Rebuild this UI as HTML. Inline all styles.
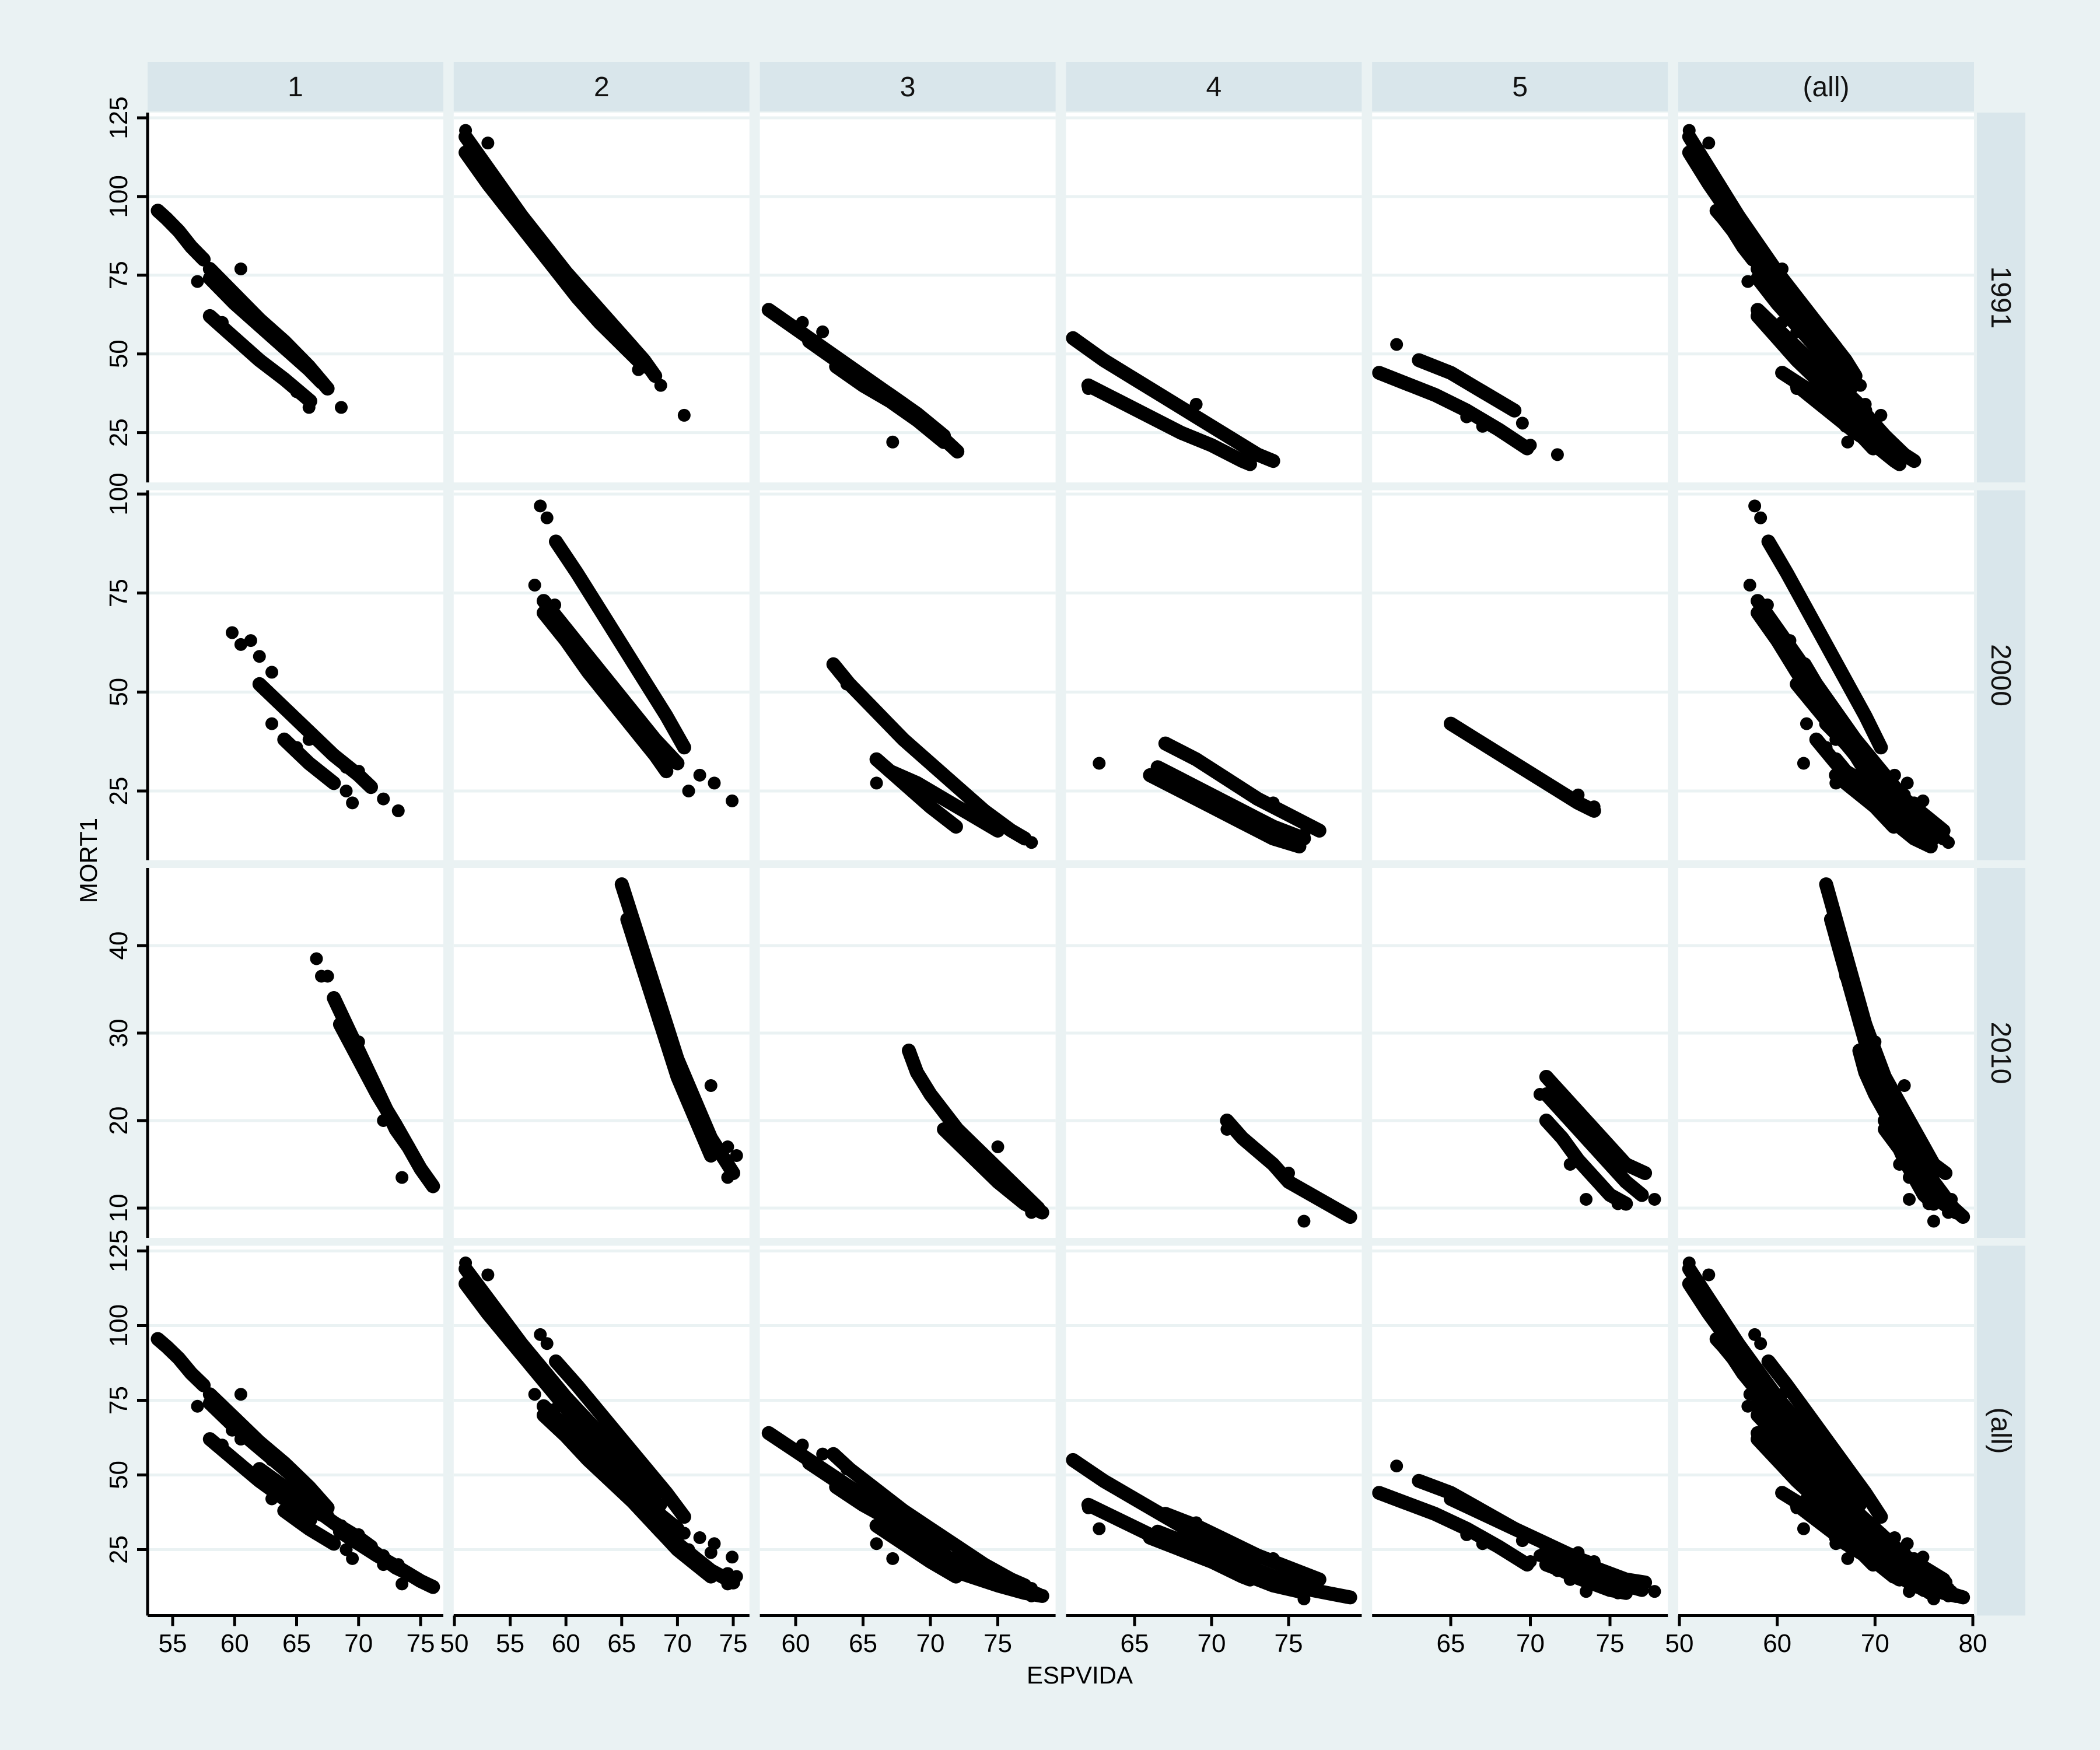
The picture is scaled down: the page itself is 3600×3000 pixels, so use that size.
<!DOCTYPE html>
<html><head><meta charset="utf-8">
<style>
html,body{margin:0;padding:0;background:#eaf2f3;}
svg{display:block;font-family:"Liberation Sans",sans-serif;}
</style></head>
<body>
<svg id="chart" width="3600" height="3000" viewBox="0 0 3600 3000" xmlns="http://www.w3.org/2000/svg">
<rect x="0" y="0" width="3600" height="3000" fill="#eaf2f3"/>
<g id="layer"></g>
<text x="1851" y="2886" font-size="42" text-anchor="middle">ESPVIDA</text>
<text x="0" y="0" font-size="42" text-anchor="middle" transform="translate(166,1475) rotate(-90)">MORT1</text>
</svg>
<script>
// ---- categories ----
const colLabels = ["1", "2", "3", "4", "5", "(all)"];
const rowLabels = ["1991", "2000", "2010", "(all)"];
// ---- tick labels ----
const xTicks = [[55,60,65,70,75],[50,55,60,65,70,75],[60,65,70,75],[65,70,75],[65,70,75],[50,60,70,80]];
const yTicks = [[25,50,75,100,125],[25,50,75,100],[10,20,30,40],[25,50,75,100,125]];
// ---- series: [ESPVIDA, MORT1] pairs; curves (dense bands) and single points ----
// 1991
const c1991_g1 = [[[53.8,95.5],[54.5,93],[55.5,89],[56.5,84],[57.5,80]],[[58,77],[60,69],[62,61],[64,54],[66,46],[67.5,39]],[[58,74],[60,66],[62,59],[64,52],[66,45],[67,41]],[[58,62],[60,55],[62,48],[64,42],[66.1,35]]];
const p1991_g1 = [[60.5,77],[57,73],[68.6,33],[66,33],[59,60],[65,38],[63,45]];
const c1991_g2 = [[[51,119],[53,109],[55,99],[57,89],[59,80],[61,71],[63,63],[65,56],[67,48],[68,43]],[[51,114],[53,104],[55,95],[57,86],[59,77],[61,68],[63,60],[65,53],[67,46]],[[52,114],[54,104],[56,94],[58,85],[60,76],[62,68],[64,60],[66,52]]];
const p1991_g2 = [[51,121],[53,117],[70.6,30.5],[68.5,40],[66.5,45]];
const c1991_g3 = [[[58,64],[60,58],[62,52],[64,46],[66,40],[68,34],[70,27],[72,19]],[[61,54],[63,48],[65,42],[67,37],[69,31],[71,24]],[[63,46],[65,40],[67,35],[69,29],[71,22]]];
const p1991_g3 = [[67.2,22],[60.5,60],[62,57]];
const c1991_g4 = [[[61,55],[63,48],[65,42],[67,36],[69,30],[71,24],[73,18],[74,16]],[[62,40],[64,35],[66,30],[68,25],[70,21],[72,16],[72.5,15]]];
const p1991_g4 = [[69,34],[62,39]];
const c1991_g5 = [[[60.5,44],[62,41],[64,37],[66,32],[68,26],[69.8,20]],[[63,48],[65,44],[67,38],[69,32]]];
const p1991_g5 = [[61.6,53],[71.7,18],[70,21],[69.5,28],[66,30],[67,27]];
// 2000
const c2000_g1 = [[[62,52],[64,46],[66,40],[68,34],[70,29],[71,26]],[[64,38],[66,32],[68,27]]];
const p2000_g1 = [[59.8,65],[60.5,62],[61.3,63],[62,59],[63,55],[63,42],[65,36],[66,38],[69,25],[69.5,22],[72,23],[73.2,20],[69,31],[70,30]];
const c2000_g2 = [[[59.1,88],[61,80],[63,71],[65,62],[67,53],[69,44],[70.6,36]],[[58,73],[60,66],[62,59],[64,52],[66,45],[68,38],[70,32]],[[58,70],[60,63],[62,55],[64,48],[66,41],[68,34],[69,30]]];
const p2000_g2 = [[57.7,97],[58.3,94],[57.2,77],[73.3,27],[74.9,22.5],[71,25],[72,29],[59,72]];
const c2000_g3 = [[[62.8,57],[64,52],[66,45],[68,38],[70,32],[72,26],[74,20],[76,15],[77,13]],[[66,33],[68,27],[70,21],[71.9,16]],[[67,30],[69,27],[71,23],[73,19],[75,15]]];
const p2000_g3 = [[63.8,52],[66,27],[77.5,12]];
const c2000_g4 = [[[67,37],[69,33],[71,28],[73,23],[75,19],[77,15]],[[66.5,31],[68,28],[70,24],[72,20],[74,16],[76,13]],[[66,29],[68,25],[70,21],[72,17],[74,13],[75.7,11]]];
const p2000_g4 = [[62.7,32],[74,22],[76,14]];
const c2000_g5 = [[[65,42],[67,37],[69,32],[71,27],[73,22],[74,20]]];
const p2000_g5 = [[73,24],[74,21]];
// 2010
const c2010_g1 = [[[68,34],[69,31],[70,28],[71,25],[72,22],[73,19],[74,17],[75,14.5],[76,12.5]],[[68.5,31],[70,27],[71.5,23],[73,19.5],[74,17]]];
const p2010_g1 = [[66.6,38.5],[67,36.5],[67.5,36.5],[73.5,13.5],[72,20],[70,29]];
const c2010_g2 = [[[65,47],[66,43],[67,39],[68,35],[69,31],[70,27],[71,24],[72,21],[73,18],[74,16],[75,14]],[[66,41],[67,37],[68,33],[69,29],[70,25],[71,22],[72,19],[73,16]],[[65.5,43],[66.5,39],[67.5,35],[68.5,31],[69.5,28],[70.5,24],[71.5,21]]];
const p2010_g2 = [[73,24],[74.5,17],[75.3,16],[74.5,13.5]];
const c2010_g3 = [[[68.4,28],[69,25.5],[70,23],[71,21],[72,19],[73,17.5],[74,16],[75,14.5],[76,13],[77,11.5],[78,10]],[[71,19],[73,16],[75,13],[77,10.5],[78.3,9.5]]];
const p2010_g3 = [[75,17],[77.5,9.5]];
const c2010_g4 = [[[71,20],[72,18],[73,16.5],[74,15],[75,13],[76,12],[77,11],[78,10],[79,9]]];
const p2010_g4 = [[76,8.5],[75,14],[71,19]];
const c2010_g5 = [[[71,25],[72,23],[73,21],[74,19],[75,17],[76,15],[77.2,14]],[[71,23],[72,21],[73,19],[74,17],[75,15],[76,13],[77,11.5]],[[71,20],[72,18],[73,15.5],[74,13.5],[75,11.5],[76,10.5]]];
const p2010_g5 = [[70.6,23],[73.5,11],[77.8,11],[72.5,15],[75.5,10.5]];

const curves = [[c1991_g1,c1991_g2,c1991_g3,c1991_g4,c1991_g5],[c2000_g1,c2000_g2,c2000_g3,c2000_g4,c2000_g5],[c2010_g1,c2010_g2,c2010_g3,c2010_g4,c2010_g5]];
const points = [[p1991_g1,p1991_g2,p1991_g3,p1991_g4,p1991_g5],[p2000_g1,p2000_g2,p2000_g3,p2000_g4,p2000_g5],[p2010_g1,p2010_g2,p2010_g3,p2010_g4,p2010_g5]];

// ---- layout ----
const NS = "http://www.w3.org/2000/svg";
const layer = document.getElementById('layer');
const colLeft = i => 253 + i * 524.8;
const PW = 507;
const rowTop = r => 193 + r * 647.5;
const PH = 634;
const xRef = [[55,296,75,721],[50,779,75,1257],[60,1364,75,1710.5],[65,1945,75,2209],[65,2487,75,2760],[50,2879,80,3382]];
const yRef = [[125,202,25,741.6],[100,847,25,1356],[40,1621,10,2071],[125,2144.5,25,2656.5]];
function xScale(c, v){const a=xRef[c];return a[1]+(v-a[0])*(a[3]-a[1])/(a[2]-a[0]);}
function yScale(r, v){const a=yRef[r];return a[1]+(v-a[0])*(a[3]-a[1])/(a[2]-a[0]);}
function mk(tag, attrs, parent){const e=document.createElementNS(NS,tag);for(const k in attrs)e.setAttribute(k,attrs[k]);(parent||layer).appendChild(e);return e;}

// column strips
colLabels.forEach((lab,i)=>{
  const s = mk('rect',{x:colLeft(i),y:106,width:PW,height:85,fill:'#d9e6eb'});
  
  
  const t = mk('text',{x:colLeft(i)+PW/2,y:165,'font-size':48,'text-anchor':'middle',fill:'#111'});
  t.textContent = lab;
  
  
});
// row strips
rowLabels.forEach((lab,r)=>{
  const s = mk('rect',{x:3389,y:rowTop(r),width:83,height:PH,fill:'#d9e6eb'});
  
  
  const cy = rowTop(r)+PH/2;
  const t = mk('text',{x:0,y:0,'font-size':48,'text-anchor':'middle',fill:'#111',transform:`translate(3414,${cy}) rotate(90)`});
  t.textContent = lab;
  
  
});

function panelData(r,c){
  let cs=[], ps=[];
  const rows = r===3 ? [0,1,2] : [r];
  const cols = c===5 ? [0,1,2,3,4] : [c];
  rows.forEach(rr=>cols.forEach(cc=>{cs=cs.concat(curves[rr][cc]);ps=ps.concat(points[rr][cc]);}));
  return {cs, ps};
}

for(let r=0;r<4;r++){
  for(let c=0;c<6;c++){
    const x0=colLeft(c), y0=rowTop(r);
    const g = mk('g',{});
    
    
    const bg = mk('rect',{x:x0,y:y0,width:PW,height:PH,fill:'#ffffff'},g);
    
    
    const cpId='cp'+r+'_'+c;
    const cp = mk('clipPath',{id:cpId},g);
    mk('rect',{x:x0,y:y0,width:PW,height:PH},cp);
    yTicks[r].forEach(v=>{
      const yy=yScale(r,v);
      const gl = mk('line',{x1:x0,x2:x0+PW,y1:yy,y2:yy,stroke:'#eaf2f3','stroke-width':5},g);
      
      
    });
    const marks = mk('g',{'clip-path':`url(#${cpId})`},g);
    const d = panelData(r,c);
    d.cs.forEach(curve=>{
      const pts = curve.map(p=>xScale(c,p[0]).toFixed(1)+','+yScale(r,p[1]).toFixed(1)).join(' ');
      const pl = mk('polyline',{points:pts,fill:'none',stroke:'#000','stroke-width':24,'stroke-linecap':'round','stroke-linejoin':'round'},marks);
      
      
      curve.forEach(p=>{
        const ci = mk('circle',{cx:xScale(c,p[0]),cy:yScale(r,p[1]),r:11,fill:'#000'},marks);
        
        
      });
    });
    d.ps.forEach(p=>{
      const ci = mk('circle',{cx:xScale(c,p[0]),cy:yScale(r,p[1]),r:11,fill:'#000'},marks);
      
      
    });
    if(c===0){
      const ax = mk('line',{x1:x0,x2:x0,y1:y0,y2:y0+PH,stroke:'#000','stroke-width':5},g);
      
      
      yTicks[r].forEach(v=>{
        const yy=yScale(r,v);
        const tk = mk('line',{x1:x0-18,x2:x0,y1:yy,y2:yy,stroke:'#000','stroke-width':5},g);
        
        
        const tl = mk('text',{x:0,y:0,'font-size':44,'text-anchor':'middle',transform:`translate(218,${yy}) rotate(-90)`},g);
        tl.textContent = v;
        
        
      });
    }
    if(r===3){
      const ax = mk('line',{x1:x0,x2:x0+PW,y1:y0+PH,y2:y0+PH,stroke:'#000','stroke-width':5},g);
      
      
      xTicks[c].forEach(v=>{
        const xx=xScale(c,v);
        const tk = mk('line',{x1:xx,x2:xx,y1:y0+PH,y2:y0+PH+18,stroke:'#000','stroke-width':5},g);
        
        
        const tl = mk('text',{x:xx,y:2832,'font-size':44,'text-anchor':'middle'},g);
        tl.textContent = v;
        
        
      });
    }
  }
}
</script>
</body></html>
